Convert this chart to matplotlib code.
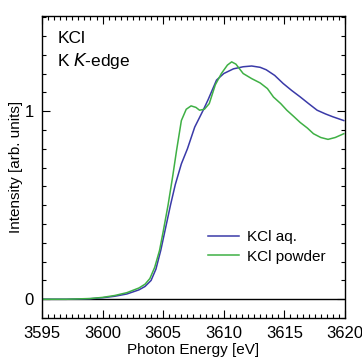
import matplotlib
matplotlib.use('Agg')
import matplotlib.pyplot as plt
from matplotlib.ticker import MultipleLocator, FixedLocator

plt.rcParams['font.family'] = ['Liberation Sans', 'DejaVu Sans']

# KCl aq. (blue)
aq_energy = [3595, 3597, 3599, 3600, 3601, 3602, 3603, 3603.5, 3604, 3604.4, 3604.8,
             3605.2, 3605.6, 3606.0, 3606.5, 3607.0, 3607.6, 3608.3, 3608.7, 3609.4,
             3610.0, 3610.8, 3611.6, 3612.3, 3613.0, 3613.5, 3614.2, 3614.9, 3615.6,
             3616.3, 3617.0, 3617.7, 3618.4, 3619.0, 3619.9]
aq_intensity = [0.0, 0.0, 0.003, 0.008, 0.016, 0.028, 0.05, 0.068, 0.10, 0.16, 0.26,
                0.38, 0.50, 0.61, 0.72, 0.80, 0.915, 1.005, 1.06, 1.165,
                1.20, 1.225, 1.236, 1.24, 1.233, 1.22, 1.19, 1.147, 1.11,
                1.076, 1.04, 1.005, 0.985, 0.97, 0.95]

# KCl powder (green)
pw_energy = [3595, 3597, 3599, 3600, 3601, 3602, 3603, 3603.5, 3603.9, 3604.3, 3604.7,
             3605.0, 3605.4, 3605.8, 3606.1, 3606.5, 3606.9, 3607.3, 3607.7, 3608.0,
             3608.4, 3608.8, 3609.3, 3609.8, 3610.3, 3610.65, 3611.0, 3611.6, 3612.3,
             3613.0, 3613.6, 3614.1, 3614.7, 3615.2, 3615.8, 3616.3, 3616.9, 3617.4,
             3618.0, 3618.6, 3619.2, 3619.9]
pw_intensity = [0.0, 0.0, 0.004, 0.01, 0.02, 0.035, 0.06, 0.08, 0.11, 0.17, 0.26,
                0.36, 0.50, 0.66, 0.79, 0.95, 1.01, 1.028, 1.02, 1.005,
                1.01, 1.04, 1.14, 1.20, 1.245, 1.262, 1.25, 1.20, 1.173,
                1.15, 1.12, 1.075, 1.04, 1.005, 0.97, 0.94, 0.91, 0.88,
                0.86, 0.85, 0.86, 0.88]

fig = plt.figure(figsize=(3.62, 3.59), dpi=100)
ax = fig.add_axes([0.116, 0.114, 0.837, 0.841])

ax.axhline(0, color='black', linewidth=1.0)
ax.plot(aq_energy, aq_intensity, color='#3a3aa8', linewidth=1.1, label='KCl aq.')
ax.plot(pw_energy, pw_intensity, color='#3fb045', linewidth=1.1, label='KCl powder')

ax.set_xlim(3595, 3620)
ax.set_ylim(-0.1, 1.505)
ax.xaxis.set_major_locator(MultipleLocator(5))
ax.xaxis.set_minor_locator(MultipleLocator(0.5))
ax.yaxis.set_major_locator(FixedLocator([0, 1]))
ax.yaxis.set_minor_locator(MultipleLocator(0.1))
ax.tick_params(which='both', direction='in', top=True, right=True, labelsize=12, width=0.8)
ax.tick_params(which='major', length=6, pad=6)
ax.tick_params(which='minor', length=3)
for s in ax.spines.values():
    s.set_linewidth(1.0)

ax.set_xlabel('Photon Energy [eV]', fontsize=11, labelpad=1)
ax.set_ylabel('Intensity [arb. units]', fontsize=11, labelpad=1)

ax.text(0.05, 0.95, 'KCl', transform=ax.transAxes, fontsize=12.5, va='top')
ax.text(0.05, 0.885, 'K $\\it{K}$-edge', transform=ax.transAxes, fontsize=12.5, va='top')

ax.legend(loc='lower right', bbox_to_anchor=(0.96, 0.155), frameon=False, fontsize=11,
          handlelength=2.0, handletextpad=0.5, labelspacing=0.35, borderpad=0)

fig.savefig('out.png', dpi=100)
